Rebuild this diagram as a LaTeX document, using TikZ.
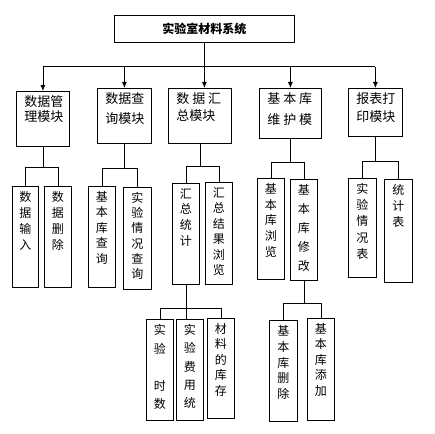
\documentclass[tikz,border=0pt]{standalone}
\usepackage{fontspec}
\setmainfont{Noto Sans CJK SC}
\usetikzlibrary{arrows.meta}

% text inside the boxes: width, height, line skip, lines
\newcommand{\mtext}[4]{\parbox[c][#2][t]{#1}{\raggedright\fontsize{13}{#3}\selectfont\vspace*{4pt}#4}}
\newcommand{\ltext}[3]{\parbox[c][#1][t]{14pt}{\centering\fontsize{12}{#2}\selectfont\vspace*{5pt}#3}}

\tikzset{
  box/.style={draw, line width=0.8pt, inner sep=0pt, anchor=north west},
  link/.style={line width=0.8pt},
  arr/.style={link, -{Latex[length=6pt,width=5pt]}}
}

\begin{document}
\begin{tikzpicture}[x=1pt,y=-1pt]
	\useasboundingbox (0,0) rectangle (435,433);

	% System
	\node[box, minimum width=180pt, minimum height=27pt, font=\fontsize{12}{14}\selectfont\bfseries] (sys) at (114,15) {实验室材料系统};

	% Modules
	\node[box, minimum width=53pt] (m1) at (16,91) {\mtext{37pt}{55pt}{15.5}{数据管\\理模块}};
	\node[box, minimum width=54pt] (m2) at (97,88) {\mtext{38pt}{55pt}{20}{数据查\\询模块}};
	\node[box, minimum width=63pt] (m3) at (168,88) {\mtext{47pt}{55pt}{17}{数~据~汇\\总模块}};
	\node[box, minimum width=62pt] (m4) at (259,88) {\mtext{46pt}{50pt}{21}{基~本~库\\维~护~模}};
	\node[box, minimum width=54pt] (m5) at (348,88) {\mtext{38pt}{48pt}{18}{报表打\\印模块}};

	% Data management
	\node[box, minimum width=26pt] (a1) at (12,186) {\ltext{101pt}{16}{数\\据\\输\\入}};
	\node[box, minimum width=27pt] (a2) at (44,186) {\ltext{101pt}{16}{数\\据\\删\\除}};

	% Data query
	\node[box, minimum width=27pt] (b1) at (88,186) {\ltext{101pt}{15.5}{基\\本\\库\\查\\询}};
	\node[box, minimum width=28pt] (b2) at (123,187) {\ltext{102pt}{15.2}{实\\验\\情\\况\\查\\询}};

	% Data summary
	\node[box, minimum width=27pt] (c1) at (172,183) {\ltext{101pt}{15.7}{汇\\总\\统\\计}};
	\node[box, minimum width=27pt] (c2) at (205,182) {\ltext{102pt}{15.5}{汇\\总\\结\\果\\浏\\览}};
	\node[box, minimum width=27pt] (f1) at (146,319) {\ltext{101pt}{18.5}{实\\验\\\mbox{}\\时\\数}};
	\node[box, minimum width=27pt] (f2) at (176,319) {\ltext{101pt}{18.3}{实\\验\\费\\用\\统}};
	\node[box, minimum width=27pt] (f3) at (207,318) {\ltext{100pt}{15.4}{材\\料\\的\\库\\存}};

	% Base maintenance
	\node[box, minimum width=27pt] (d1) at (257,178) {\ltext{101pt}{15.7}{基\\本\\库\\浏\\览}};
	\node[box, minimum width=27pt] (d2) at (290,179) {\ltext{101pt}{19}{基\\本\\库\\修\\改}};
	\node[box, minimum width=28pt] (g1) at (269,320) {\ltext{101pt}{15.8}{基\\本\\库\\删\\除}};
	\node[box, minimum width=27pt] (g2) at (307,318) {\ltext{102pt}{15.5}{基\\本\\库\\添\\加}};

	% Reports
	\node[box, minimum width=28pt] (e1) at (348,178) {\ltext{99pt}{16.2}{实\\验\\情\\况\\表}};
	\node[box, minimum width=28pt] (e2) at (384,179) {\ltext{103pt}{15.8}{统\\计\\表}};

	% Links
	\draw[link] (sys.south) -- ++(0,24) coordinate (bus);
	\draw[arr] (bus) -- (bus |- m3.north);
	\draw[link] (bus -| m1.north) -- (bus -| m5.north);
	\foreach \m in {m1,m2,m4,m5}
		\draw[arr] (bus -| \m.north) -- (\m.north);

	\draw[link] (m1.south) -- ++(0,21) coordinate (j1);
	\draw[link] (a1.north) |- (j1) -| (a2.north);
	\draw[link] (m2.south) -- ++(0,25) coordinate (j2);
	\draw[link] (b1.north) |- (j2) -| (b2.north);
	\draw[link] (m3.south) -- ++(0,23) coordinate (j3);
	\draw[link] (c1.north) |- (j3) -| (c2.north);
	\draw[link] (m4.south) -- ++(0,24) coordinate (j4);
	\draw[link] (d1.north) |- (j4) -| (d2.north);
	\draw[link] (m5.south) -- ++(0,25) coordinate (j5);
	\draw[link] (e1.north) |- (j5) -| (e2.north);

	\draw[link] (c1.south) -- ++(0,24) coordinate (j6);
	\draw[link] (f1.north) |- (j6) -| (f3.north);
	\draw[link] (j6) -- (j6 |- f2.north);
	\draw[link] (d2.south) -- ++(0,23) coordinate (j7);
	\draw[link] (g1.north) |- (j7) -| (g2.north);
\end{tikzpicture}
\end{document}
